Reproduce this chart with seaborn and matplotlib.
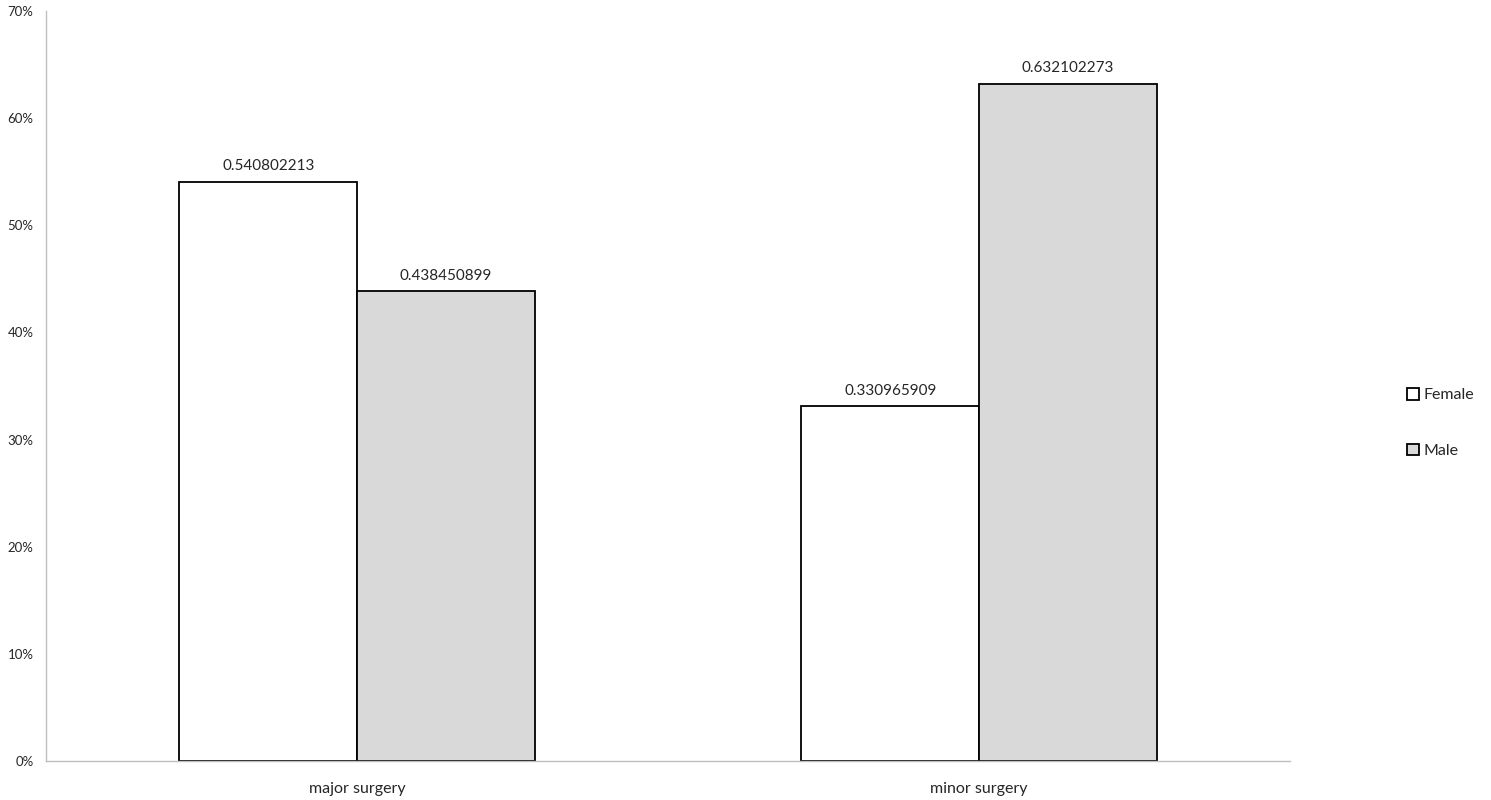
import matplotlib
matplotlib.use("Agg")

import matplotlib.pyplot as plt
import pandas as pd
import seaborn as sns
from matplotlib.patches import Patch
from matplotlib.ticker import FixedLocator, PercentFormatter

# data
categories = ["major surgery", "minor surgery"]
female = [0.540802213, 0.330965909]
male = [0.438450899, 0.632102273]
series = ["Female", "Male"]

df = pd.DataFrame({
    "category": categories * 2,
    "sex": ["Female"] * 2 + ["Male"] * 2,
    "value": female + male,
})

sns.set_style("white")
plt.rcParams["font.family"] = ["Lato", "DejaVu Sans"]

fig = plt.figure(figsize=(14.91, 8), dpi=100)
ax = fig.add_axes([46 / 1491, 39 / 800, (1290 - 46) / 1491, 750 / 800])

sns.barplot(data=df, x="category", y="value", hue="sex", hue_order=series,
            palette={"Female": "#ffffff", "Male": "#d9d9d9"},
            edgecolor="black", linewidth=1.3, width=0.571, ax=ax,
            legend=False)

for cont in ax.containers:
    ax.bar_label(cont, fmt="%.9f", padding=6, fontsize=11)

ax.set_xlim(-0.5, 1.5)
ax.set_ylim(0, 0.7)
ax.yaxis.set_major_locator(FixedLocator([i / 10 for i in range(8)]))
ax.yaxis.set_major_formatter(PercentFormatter(1.0, decimals=0))
ax.tick_params(axis="y", length=5, color="#bfbfbf", labelsize=9.5, pad=4)
ax.xaxis.set_minor_locator(FixedLocator([-0.5, 0.5, 1.5]))
ax.tick_params(axis="x", which="major", length=0, labelsize=11.5, pad=15)
ax.tick_params(axis="x", which="minor", length=6, color="#bfbfbf")
ax.set_xlabel("")
ax.set_ylabel("")

for side in ["top", "right"]:
    ax.spines[side].set_visible(False)
for side in ["left", "bottom"]:
    ax.spines[side].set_color("#bfbfbf")
    ax.spines[side].set_linewidth(1.0)

handles = [Patch(facecolor="#ffffff", edgecolor="black", linewidth=1.3),
           Patch(facecolor="#d9d9d9", edgecolor="black", linewidth=1.3)]
fig.legend(handles, series, loc="center left",
           bbox_to_anchor=(1393 / 1491, 1 - 423 / 800), frameon=False,
           fontsize=11.5, handlelength=0.75, handleheight=0.75,
           handletextpad=0.25, labelspacing=2.6)

fig.savefig("out.png", dpi=100)
